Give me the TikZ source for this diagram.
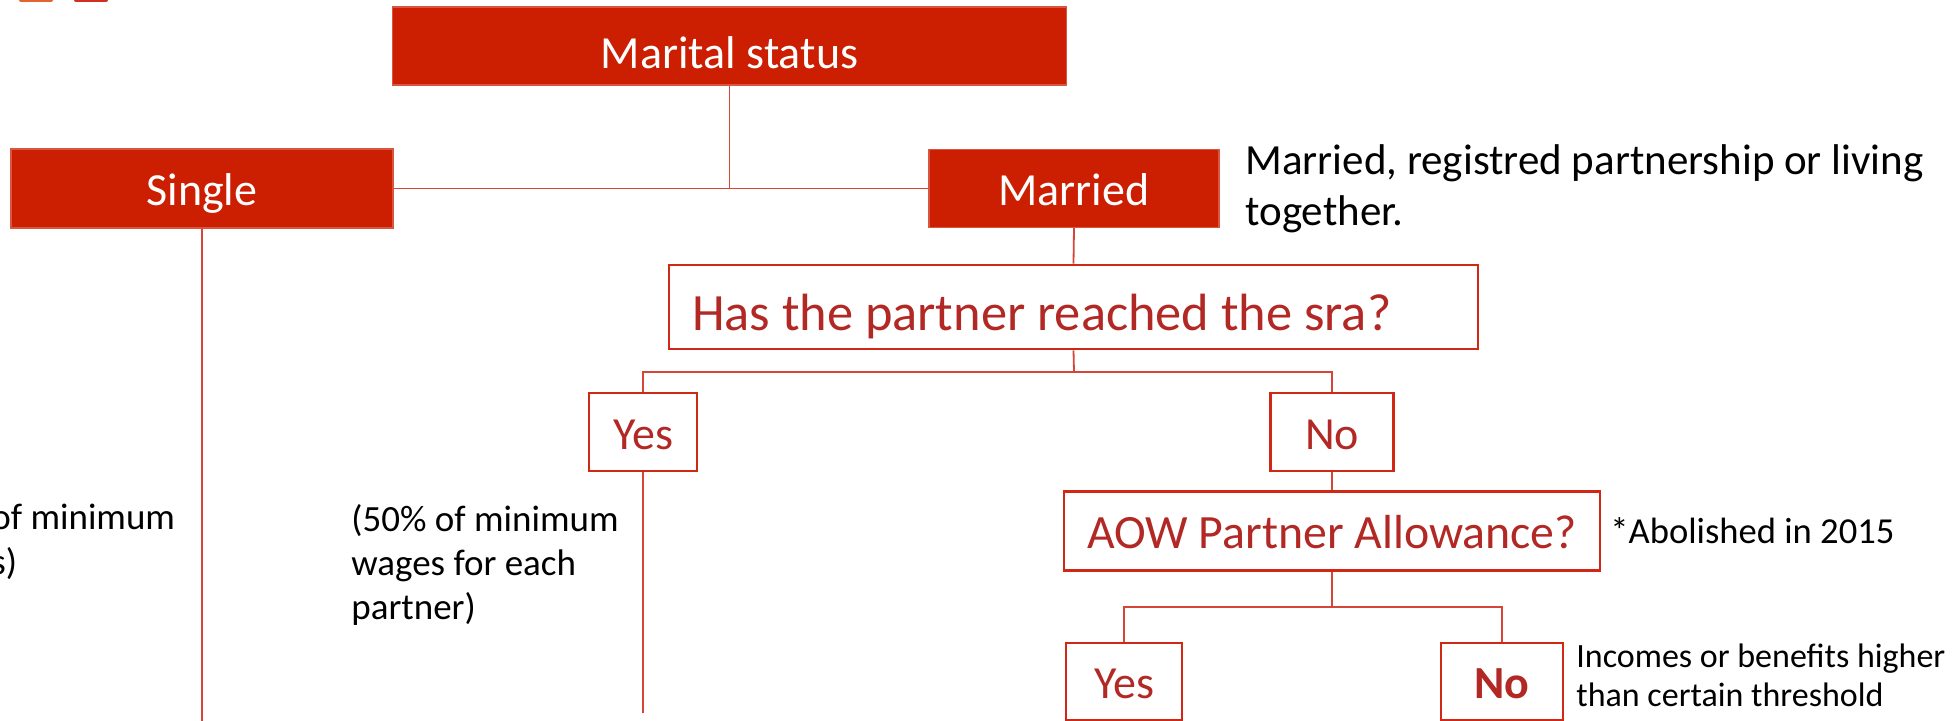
\documentclass[tikz,border=0pt]{standalone}
\usepackage{fontspec}
\setmainfont{Carlito}
\usepackage{xcolor}
\usepackage{tikz}

\definecolor{boxred}{RGB}{204,30,0}
\definecolor{edgered}{RGB}{208,40,20}
\definecolor{textred}{RGB}{178,40,36}
\definecolor{linkred}{RGB}{214,70,56}
\definecolor{taborange}{RGB}{228,100,48}
\definecolor{tabred}{RGB}{208,48,36}

\begin{document}
\begin{tikzpicture}[x=0.5pt,y=-0.5pt,
  redbox/.style={fill=boxred,draw=boxred!75!white,line width=0.6pt,text=white,inner sep=0pt,
    text height=18.4pt,text depth=1.2pt,font=\fontsize{23pt}{27pt}\selectfont},
  linebox/.style={draw=edgered,line width=1.4pt,text=textred,inner sep=0pt,
    text height=18.4pt,text depth=1.2pt,font=\fontsize{23pt}{27pt}\selectfont},
  note/.style={anchor=west,align=left,inner sep=0pt},
  link/.style={draw=linkred,line width=0.9pt}]
\useasboundingbox (0,0) rectangle (1954,721);

% cut-off marks at the top edge
\fill[taborange,rounded corners=1pt] (19,-4) rectangle (53,2);
\fill[tabred,rounded corners=1pt] (74,-4) rectangle (108,2);

% first level
\node[redbox,minimum width=337pt,minimum height=39pt,text height=23pt,text depth=0pt] (status) at (729.5,46) {Marital status};
\node[redbox,minimum width=191pt,minimum height=39.5pt] (single) at (202,188.5) {Single};
\node[redbox,minimum width=145pt,minimum height=39pt] (married) at (1074,188.5) {Married};
\node[note,font=\fontsize{21.5pt}{25.5pt}\selectfont] (marriednote) at (1245,189) {Married, registred partnership or living\\together.};

% partner question
\node[linebox,text width=381.5pt,inner xsep=11.5pt,minimum height=42pt,align=flush left,
  text height=23.6pt,text depth=0pt,font=\fontsize{26.2pt}{30pt}\selectfont] (question) at (1073.5,307) {Has the partner reached the sra?};
\node[linebox,minimum width=54pt,minimum height=39pt] (yes) at (643,432) {Yes};
\node[linebox,minimum width=61.5pt,minimum height=39pt] (no) at (1332,432) {No};
\node[linebox,minimum width=268pt,minimum height=39.5pt,font=\fontsize{23.9pt}{28pt}\selectfont] (allowance) at (1332,531) {AOW Partner Allowance?};
\node[note,font=\fontsize{18.3pt}{22pt}\selectfont] (abolished) at (1610,531) {*Abolished in 2015};
\node[linebox,minimum width=58pt,minimum height=38.5pt] (yestwo) at (1124,681.5) {Yes};
\node[linebox,minimum width=61pt,minimum height=38.5pt] (notwo) at (1502,681.5) {\textbf{No}};
\node[note,font=\fontsize{17pt}{19.5pt}\selectfont] (threshold) at (1576,675) {Incomes or benefits higher\\than certain threshold};

% benefit notes
\node[note,font=\fontsize{18.5pt}{22.2pt}\selectfont] (singlewage) at (-9,542) {of minimum\\s)};
\node[note,font=\fontsize{18.5pt}{22.2pt}\selectfont] (halfwage) at (351,565) {(50\% of minimum\\wages for each\\partner)};

% connectors
\coordinate (qsplit) at (1074,372);
\coordinate (asplit) at (1332,607);
\coordinate (singleend) at (202,721);
\coordinate (yesend) at (643,713);
\draw[link] (status.south) -- (status.south |- single.east);
\draw[link] (single.east) -- (married.west);
\draw[link] (single.south) -- (singleend);
\draw[link] (married.south) -- (question.north);
\draw[link] (question.south) -- (qsplit);
\draw[link] (yes.north) |- (qsplit) -| (no.north);
\draw[link] (yes.south) -- (yesend);
\draw[link] (no.south) -- (allowance.north);
\draw[link] (allowance.south) -- (asplit);
\draw[link] (yestwo.north) |- (asplit) -| (notwo.north);
\end{tikzpicture}
\end{document}
